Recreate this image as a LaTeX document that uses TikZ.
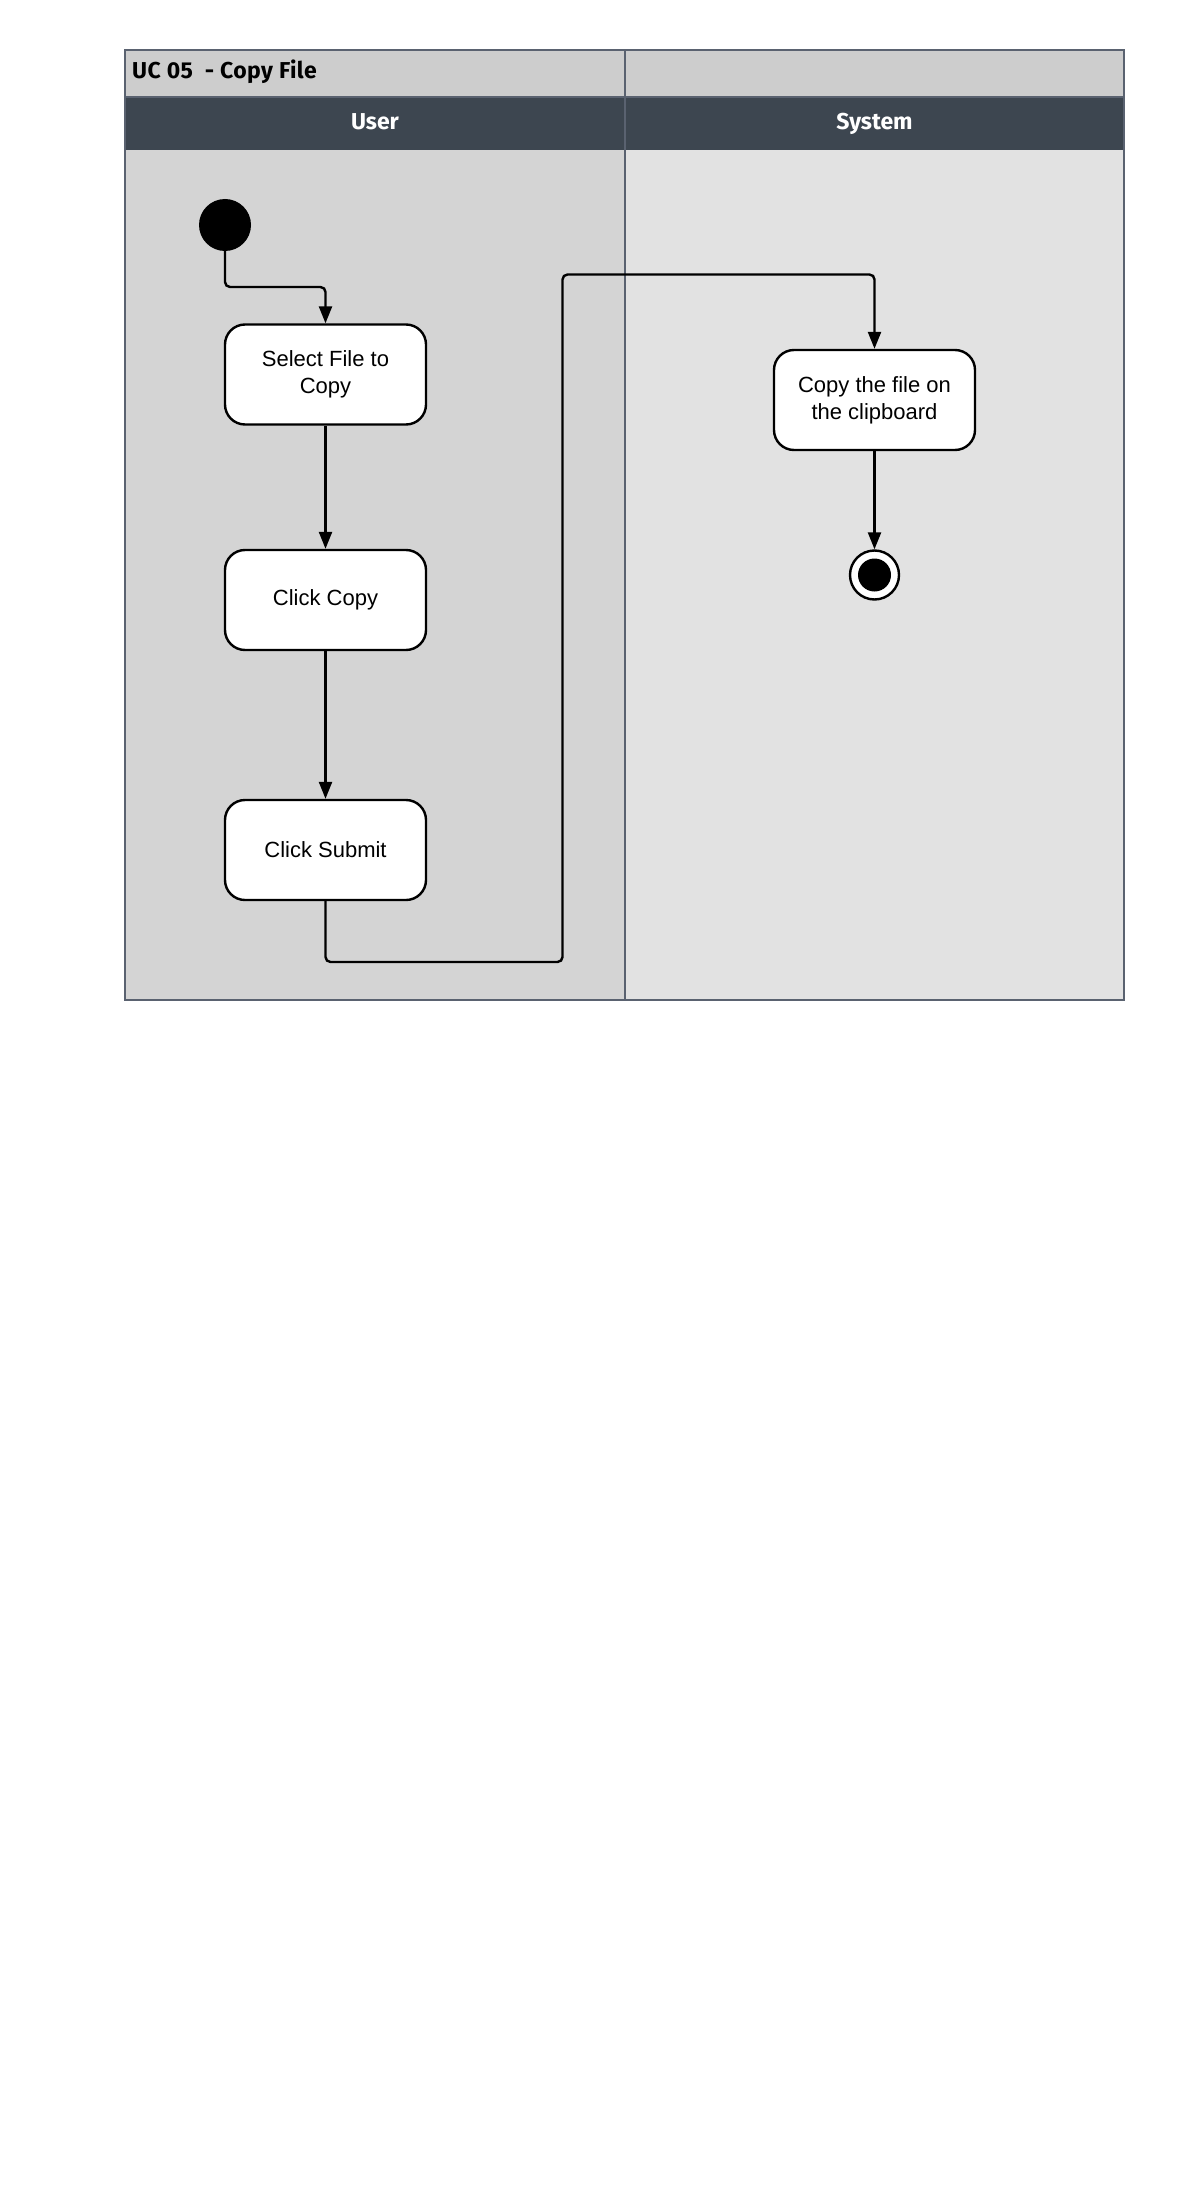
\documentclass[tikz,border=0pt]{standalone}
\usepackage{fontspec}
\setmainfont{Liberation Sans}
\newfontfamily\headfont{Fira Sans}
\newfontfamily\titlefont[LetterSpace=2]{Fira Sans}
\usetikzlibrary{arrows.meta}
\definecolor{framecol}{HTML}{5A6270}
\definecolor{titlebg}{HTML}{CDCDCD}
\definecolor{headbg}{HTML}{3D4650}
\definecolor{userbg}{HTML}{D4D4D4}
\definecolor{sysbg}{HTML}{E2E2E2}
\begin{document}
\begin{tikzpicture}[x=1bp,y=-1bp,
  actbox/.style={draw=black, line width=2.4bp, fill=white, rounded corners=20bp,
    minimum width=201bp, minimum height=100bp, inner sep=0pt, align=center,
    font=\fontsize{22bp}{27bp}\selectfont},
  flow/.style={draw=black, line width=2.4bp, rounded corners=5bp,
    -{Triangle[length=17bp,width=13bp]}},
  lanehead/.style={text=white, anchor=base, inner sep=0pt,
    font=\headfont\bfseries\fontsize{23bp}{27bp}\selectfont}]
\useasboundingbox (0,0) rectangle (1200,2200);
\fill[white] (0,0) rectangle (1200,2200);

% swimlane background
\fill[titlebg] (125,50) rectangle (1124,97);
\fill[headbg] (125,97) rectangle (1124,150);
\fill[userbg] (125,150) rectangle (625,1000);
\fill[sysbg] (625,150) rectangle (1124,1000);
\draw[framecol, line width=1.5bp] (625,50) -- (625,1000);
\draw[framecol, line width=1.5bp] (125,97) -- (1124,97);
\draw[framecol, line width=1.8bp] (125,50) rectangle (1124,1000);

% titles
\node[anchor=base west, inner sep=0pt, font=\titlefont\bfseries\fontsize{23bp}{27bp}\selectfont] (title) at (132,79) {UC 05\ \ - Copy File};
\node[lanehead] (userlane) at (375,130) {User};
\node[lanehead] (syslane) at (874.5,130) {System};

% nodes
\node[circle, fill=black, minimum size=52bp, inner sep=0pt] (start) at (225,225) {};
\node[actbox] (select) at (325.5,374.5) {Select File to\\Copy};
\node[actbox] (copy) at (325.5,600) {Click Copy};
\node[actbox] (submit) at (325.5,850) {Click Submit};
\node[actbox] (clip) at (874.5,400) {Copy the file on\\the clipboard};
\node[circle, draw=black, line width=2.4bp, fill=white, minimum size=49bp, inner sep=0pt] (final) at (874.5,575) {};
\node[circle, fill=black, minimum size=33bp, inner sep=0pt] at (final) {};

% connectors
\coordinate (k1) at (225,287);
\coordinate (k2) at (325.5,287);
\draw[flow] (start.south) -- (k1) -- (k2) -- (select.north);
\draw[flow] (select.south) -- (copy.north);
\draw[flow] (copy.south) -- (submit.north);
\coordinate (s1) at (325.5,962);
\coordinate (s2) at (562.5,962);
\coordinate (s3) at (562.5,274.5);
\coordinate (s4) at (874.5,274.5);
\draw[flow] (submit.south) -- (s1) -- (s2) -- (s3) -- (s4) -- (clip.north);
\draw[flow] (clip.south) -- (final.north);
\end{tikzpicture}
\end{document}
